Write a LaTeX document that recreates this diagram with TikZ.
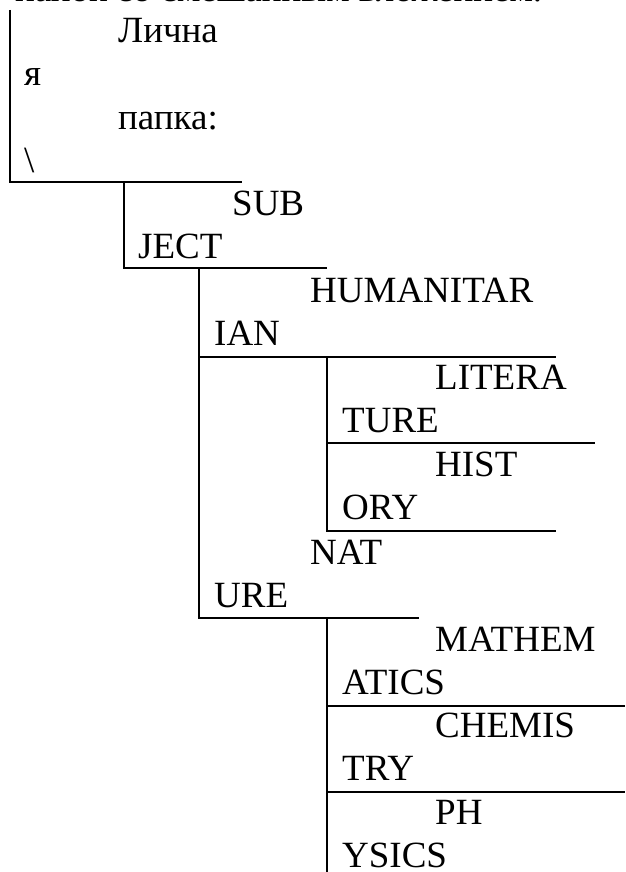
\documentclass[tikz,border=0pt]{standalone}
\usepackage{fontspec}
\setmainfont{Liberation Serif}
\usetikzlibrary{positioning}
\tikzset{	x=1pt, y=-1pt,
	every node/.style={
		inner sep=0pt,
		anchor=base west,
		font=\fontsize{37}{43}\selectfont},
	branch/.style={
		draw,
		line width=1.5pt}
}

\begin{document}
\begin{tikzpicture}
	\useasboundingbox (0,0) rectangle (625,872);
	
	\node (caption) at (15,1.5) {папок со смешанным вложением.};
	
	\coordinate (root-top) at (10,10);
	\coordinate (root) at (10,182);
	\coordinate (root-end) at (242,182);
	\coordinate (subject) at (124,268);
	\coordinate (subject-end) at (327,268);
	\coordinate (human) at (199,357);
	\coordinate (human-end) at (556,357);
	\coordinate (lit) at (327,443);
	\coordinate (lit-end) at (595,443);
	\coordinate (hist) at (327,531);
	\coordinate (hist-end) at (556,531);
	\coordinate (nature) at (199,618);
	\coordinate (nature-end) at (419,618);
	\coordinate (math) at (327,706);
	\coordinate (math-end) at (625,706);
	\coordinate (chem) at (327,792);
	\coordinate (chem-end) at (625,792);
	\coordinate (phys) at (327,872);
	
	\node (root1) at (118,43) {Лична};
	\node (root2) at (24,86) {я};
	\node (root3) at (118,129) {папка:};
	\node (root4) at (24,172) {\textbackslash};
	
	\node (subject1) at (232,215) {SUB};
	\node (subject2) at (138,258) {JECT};
	
	\node (human1) at (310,302) {HUMANITAR};
	\node (human2) at (214,345) {IAN};
	
	\node (lit1) at (435,389) {LITERA};
	\node (lit2) at (342,432) {TURE};
	
	\node (hist1) at (435,476) {HIST};
	\node (hist2) at (342,519) {ORY};
	
	\node (nature1) at (310,564) {NAT};
	\node (nature2) at (214,607) {URE};
	
	\node (math1) at (435,651) {MATHEM};
	\node (math2) at (342,694) {ATICS};
	
	\node (chem1) at (435,737) {CHEMIS};
	\node (chem2) at (342,780) {TRY};
	
	\node (phys1) at (435,824) {PH};
	\node (phys2) at (342,867) {YSICS};
	
	\draw[branch] (root-top) -- (root) -- (root-end);
	\draw[branch] (subject |- root) -- (subject) -- (subject-end);
	\draw[branch] (human |- subject) -- (human) -- (human-end);
	\draw[branch] (human) -- (nature) -- (nature-end);
	\draw[branch] (lit |- human) -- (lit) -- (lit-end);
	\draw[branch] (lit) -- (hist) -- (hist-end);
	\draw[branch] (math |- nature) -- (math) -- (math-end);
	\draw[branch] (math) -- (chem) -- (chem-end);
	\draw[branch] (chem) -- (phys);
	
\end{tikzpicture}
\end{document}
